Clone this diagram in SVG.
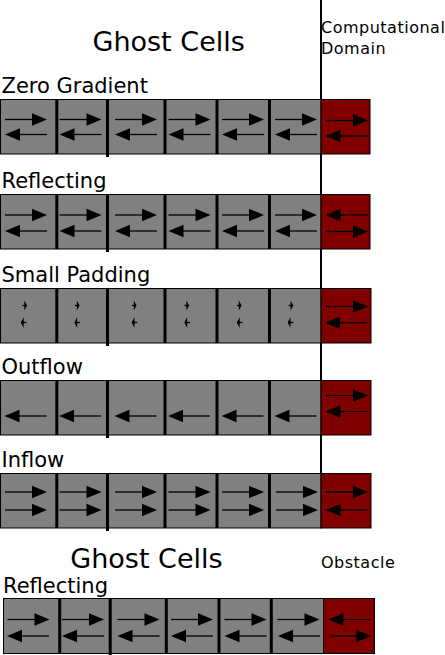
<svg xmlns="http://www.w3.org/2000/svg" xmlns:xlink="http://www.w3.org/1999/xlink" width="445" height="655" viewBox="0 0 445 655">
<style>
text{font-family:"DejaVu Sans","Liberation Sans",sans-serif;fill:#000}
.title{font-size:27px}
.lbl{font-size:21px}
.small{font-size:16px;letter-spacing:0.5px}
.ghost{fill:#808080;stroke:#000;stroke-width:1}
.dom{fill:#800000;stroke:#000;stroke-width:1}
.sep{stroke:#000;stroke-width:3}
.ln{stroke:#000;stroke-width:1.3}
.tip{fill:#000}
</style>
<defs>
<g id="ra"><line class="ln" x1="0" y1="0" x2="30" y2="0"/><polygon class="tip" points="27,-6.3 42,0 27,6.3"/></g>
<g id="la"><line class="ln" x1="12" y1="0" x2="42" y2="0"/><polygon class="tip" points="15,-6.3 0,0 15,6.3"/></g>
<g id="tr"><line class="ln" x1="-3" y1="0" x2="1" y2="0"/><polygon class="tip" points="-1.2,-5 1.6,0 -1.2,5"/></g>
<g id="tl"><line class="ln" x1="-1" y1="0" x2="4" y2="0"/><polygon class="tip" points="1.2,-5.5 -1.6,0 1.2,5.5"/></g>
</defs>

<g id="titles">
<text class="title" x="92.5" y="51">Ghost Cells</text>
<text class="small" x="321" y="32.5">Computational</text>
<text class="small" x="321" y="53.5">Domain</text>
</g>

<g id="connectors">
<line x1="321" y1="0" x2="321" y2="528" stroke="#000" stroke-width="2"/>
</g>

<g id="row-zero-gradient">
<text class="lbl" x="1.5" y="93">Zero Gradient</text>
<rect class="ghost" x="0.5" y="99.5" width="320.5" height="54.5"/>
<line class="sep" x1="56.8" y1="99.5" x2="56.8" y2="154"/>
<line class="sep" x1="107.5" y1="99.5" x2="107.5" y2="157"/>
<line class="sep" x1="165" y1="99.5" x2="165" y2="154"/>
<line class="sep" x1="217" y1="99.5" x2="217" y2="154"/>
<line class="sep" x1="269.5" y1="99.5" x2="269.5" y2="154"/>
<use xlink:href="#ra" x="5" y="119.5"/><use xlink:href="#la" x="5" y="134.5"/>
<use xlink:href="#ra" x="59.5" y="119.5"/><use xlink:href="#la" x="59.5" y="134.5"/>
<use xlink:href="#ra" x="115" y="119.5"/><use xlink:href="#la" x="115" y="134.5"/>
<use xlink:href="#ra" x="168.5" y="119.5"/><use xlink:href="#la" x="168.5" y="134.5"/>
<use xlink:href="#ra" x="222" y="119.5"/><use xlink:href="#la" x="222" y="134.5"/>
<use xlink:href="#ra" x="275" y="119.5"/><use xlink:href="#la" x="275" y="134.5"/>
<rect class="dom" x="321" y="99.5" width="49" height="54.5"/>
<use xlink:href="#ra" x="326" y="120.5"/><use xlink:href="#la" x="325.5" y="136"/>
</g>

<g id="row-reflecting">
<text class="lbl" x="1.5" y="188">Reflecting</text>
<rect class="ghost" x="0.5" y="194.5" width="320.5" height="54.5"/>
<line class="sep" x1="56.8" y1="194.5" x2="56.8" y2="249"/>
<line class="sep" x1="107.5" y1="194.5" x2="107.5" y2="252"/>
<line class="sep" x1="165" y1="194.5" x2="165" y2="249"/>
<line class="sep" x1="217" y1="194.5" x2="217" y2="249"/>
<line class="sep" x1="269.5" y1="194.5" x2="269.5" y2="249"/>
<use xlink:href="#ra" x="5" y="215"/><use xlink:href="#la" x="5" y="231"/>
<use xlink:href="#ra" x="59.5" y="215"/><use xlink:href="#la" x="59.5" y="231"/>
<use xlink:href="#ra" x="115" y="215"/><use xlink:href="#la" x="115" y="231"/>
<use xlink:href="#ra" x="168.5" y="215"/><use xlink:href="#la" x="168.5" y="231"/>
<use xlink:href="#ra" x="222" y="215"/><use xlink:href="#la" x="222" y="231"/>
<use xlink:href="#ra" x="275" y="215"/><use xlink:href="#la" x="275" y="231"/>
<rect class="dom" x="321" y="194.5" width="49" height="54.5"/>
<use xlink:href="#la" x="325.5" y="215"/><use xlink:href="#ra" x="326" y="231.5"/>
</g>

<g id="row-small-padding">
<text class="lbl" x="1.5" y="282">Small Padding</text>
<rect class="ghost" x="0.5" y="288.5" width="320.5" height="54.5"/>
<line class="sep" x1="56.8" y1="288.5" x2="56.8" y2="343"/>
<line class="sep" x1="107.5" y1="288.5" x2="107.5" y2="346"/>
<line class="sep" x1="165" y1="288.5" x2="165" y2="343"/>
<line class="sep" x1="217" y1="288.5" x2="217" y2="343"/>
<line class="sep" x1="269.5" y1="288.5" x2="269.5" y2="343"/>
<use xlink:href="#tr" x="25.5" y="305.5"/><use xlink:href="#tl" x="22.5" y="322.5"/>
<use xlink:href="#tr" x="78" y="305.5"/><use xlink:href="#tl" x="76" y="322.5"/>
<use xlink:href="#tr" x="135" y="305.5"/><use xlink:href="#tl" x="133.3" y="322.5"/>
<use xlink:href="#tr" x="187.5" y="305.5"/><use xlink:href="#tl" x="186" y="322.5"/>
<use xlink:href="#tr" x="240" y="305.5"/><use xlink:href="#tl" x="238.5" y="322.5"/>
<use xlink:href="#tr" x="291.7" y="305.5"/><use xlink:href="#tl" x="289.3" y="322.5"/>
<rect class="dom" x="321" y="288.5" width="50" height="54.5"/>
<use xlink:href="#ra" x="326" y="306.5"/><use xlink:href="#la" x="325" y="322.7"/>
</g>

<g id="row-outflow">
<text class="lbl" x="1.5" y="374">Outflow</text>
<rect class="ghost" x="0.5" y="380.5" width="320.5" height="54.5"/>
<line class="sep" x1="56.8" y1="380.5" x2="56.8" y2="435"/>
<line class="sep" x1="107.5" y1="380.5" x2="107.5" y2="438"/>
<line class="sep" x1="165" y1="380.5" x2="165" y2="435"/>
<line class="sep" x1="217" y1="380.5" x2="217" y2="435"/>
<line class="sep" x1="269.5" y1="380.5" x2="269.5" y2="435"/>
<use xlink:href="#la" x="4.5" y="416"/>
<use xlink:href="#la" x="59" y="416"/>
<use xlink:href="#la" x="114.5" y="416"/>
<use xlink:href="#la" x="168" y="416"/>
<use xlink:href="#la" x="221.5" y="416"/>
<use xlink:href="#la" x="274.5" y="416"/>
<rect class="dom" x="321" y="380.5" width="50" height="54.5"/>
<use xlink:href="#ra" x="326" y="395.5"/><use xlink:href="#la" x="325.5" y="411.5"/>
</g>

<g id="row-inflow">
<text class="lbl" x="1.5" y="467">Inflow</text>
<rect class="ghost" x="0.5" y="473.5" width="320.5" height="54.5"/>
<line class="sep" x1="56.8" y1="473.5" x2="56.8" y2="528"/>
<line class="sep" x1="107.5" y1="473.5" x2="107.5" y2="531"/>
<line class="sep" x1="165" y1="473.5" x2="165" y2="528"/>
<line class="sep" x1="217" y1="473.5" x2="217" y2="528"/>
<line class="sep" x1="269.5" y1="473.5" x2="269.5" y2="528"/>
<use xlink:href="#ra" x="5" y="492"/><use xlink:href="#ra" x="5" y="510"/>
<use xlink:href="#ra" x="59.5" y="492"/><use xlink:href="#ra" x="59.5" y="510"/>
<use xlink:href="#ra" x="115" y="492"/><use xlink:href="#ra" x="115" y="510"/>
<use xlink:href="#ra" x="168.5" y="492"/><use xlink:href="#ra" x="168.5" y="510"/>
<use xlink:href="#ra" x="222" y="492"/><use xlink:href="#ra" x="222" y="510"/>
<use xlink:href="#ra" x="276" y="492"/><use xlink:href="#ra" x="276" y="510"/>
<rect class="dom" x="321" y="473.5" width="50" height="54.5"/>
<use xlink:href="#ra" x="326" y="492"/><use xlink:href="#la" x="325.5" y="510"/>
</g>

<g id="obstacle-section">
<text class="title" x="70.3" y="568">Ghost Cells</text>
<text class="small" x="321" y="567.5">Obstacle</text>
<text class="lbl" x="3" y="593">Reflecting</text>
<rect class="ghost" x="3.5" y="598.5" width="320" height="55"/>
<line class="sep" x1="59.7" y1="598.5" x2="59.7" y2="653.5"/>
<line class="sep" x1="110.2" y1="598.5" x2="110.2" y2="655"/>
<line class="sep" x1="166.3" y1="598.5" x2="166.3" y2="653.5"/>
<line class="sep" x1="219" y1="598.5" x2="219" y2="653.5"/>
<line class="sep" x1="271.3" y1="598.5" x2="271.3" y2="653.5"/>
<use xlink:href="#ra" x="7.5" y="619.5"/><use xlink:href="#la" x="7" y="636"/>
<use xlink:href="#ra" x="62" y="619.5"/><use xlink:href="#la" x="62" y="636"/>
<use xlink:href="#ra" x="117.5" y="619.5"/><use xlink:href="#la" x="117.5" y="636"/>
<use xlink:href="#ra" x="171" y="619.5"/><use xlink:href="#la" x="171" y="636"/>
<use xlink:href="#ra" x="224.5" y="619.5"/><use xlink:href="#la" x="224.5" y="636"/>
<use xlink:href="#ra" x="277.5" y="619.5"/><use xlink:href="#la" x="278" y="636"/>
<rect class="dom" x="323.5" y="598.5" width="51" height="55"/>
<use xlink:href="#la" x="328.3" y="619.5"/><use xlink:href="#ra" x="329.3" y="636"/>
</g>
</svg>
